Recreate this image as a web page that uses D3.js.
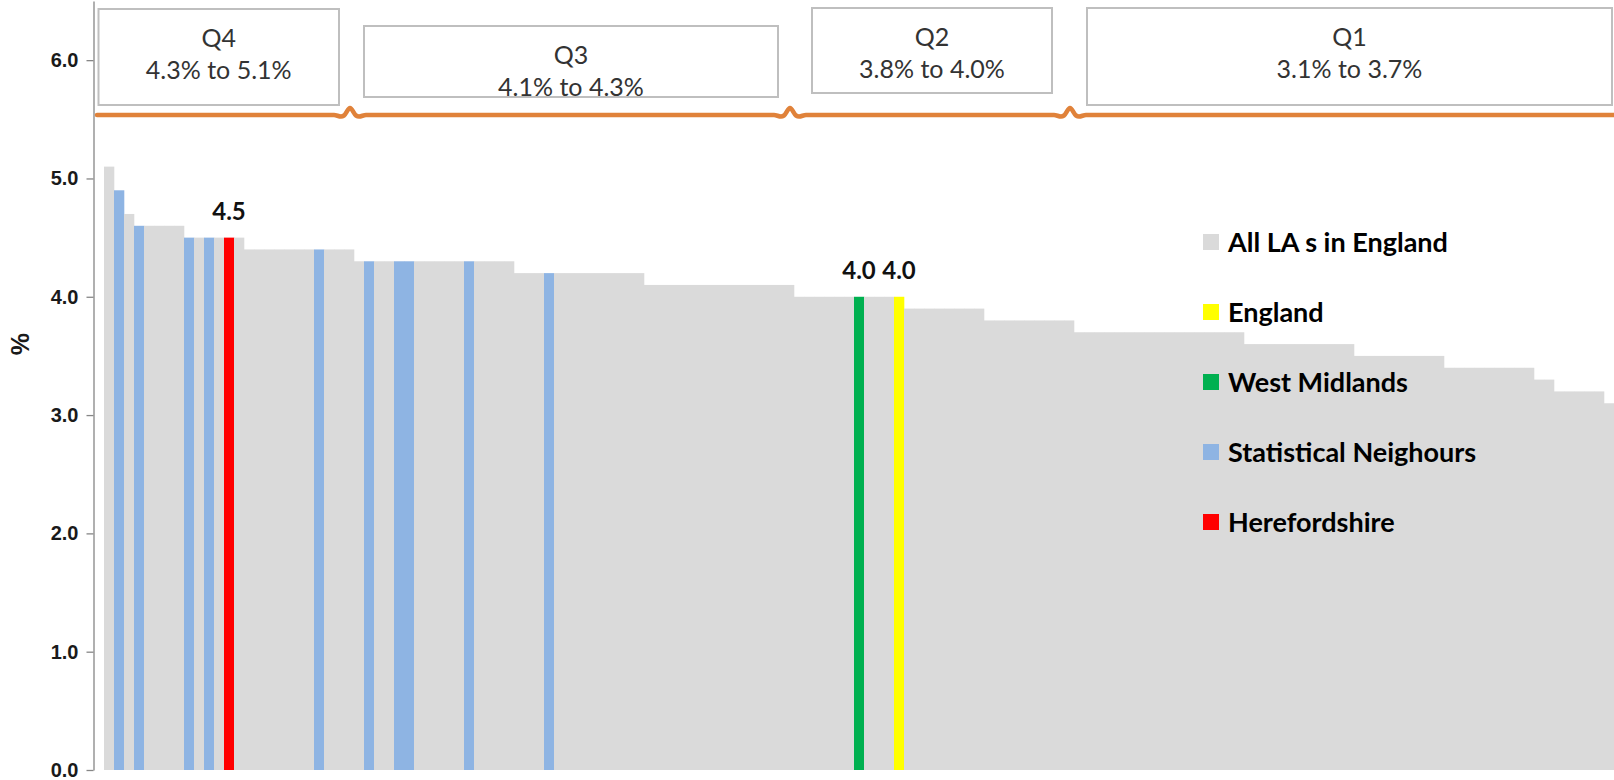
<!DOCTYPE html>
<meta charset="utf-8">
<style>

body {
  margin: 0;
  background: #fff;
}

.axis .domain,
.axis .tick line {
  stroke: #868686;
  stroke-width: 1.3px;
}

.axis .tick text {
  font: bold 20px "Liberation Sans", Arial, sans-serif;
  fill: #1a1a1a;
}

.box {
  fill: #fff;
  stroke: #bfbfbf;
  stroke-width: 2px;
}

.box-text {
  font: 25px Lato, sans-serif;
  fill: #333;
  text-anchor: middle;
}

.brace {
  fill: none;
  stroke: #e0823a;
  stroke-width: 4.5px;
  stroke-linecap: round;
  stroke-linejoin: round;
}

.value-label {
  font: bold 24px Lato, sans-serif;
  fill: #111;
  text-anchor: middle;
}

.legend text {
  font: bold 27px Lato, sans-serif;
  fill: #000;
}

</style>

<body>

<script src="https://cdn.jsdelivr.net/npm/d3@7"></script>
<script>

// one bar per local authority, sorted high to low (%)
var values = [
  5.1, 4.9, 4.7, 4.6, 4.6, 4.6, 4.6, 4.6, 4.5, 4.5,
  4.5, 4.5, 4.5, 4.5, 4.4, 4.4, 4.4, 4.4, 4.4, 4.4,
  4.4, 4.4, 4.4, 4.4, 4.4, 4.3, 4.3, 4.3, 4.3, 4.3,
  4.3, 4.3, 4.3, 4.3, 4.3, 4.3, 4.3, 4.3, 4.3, 4.3,
  4.3, 4.2, 4.2, 4.2, 4.2, 4.2, 4.2, 4.2, 4.2, 4.2,
  4.2, 4.2, 4.2, 4.2, 4.1, 4.1, 4.1, 4.1, 4.1, 4.1,
  4.1, 4.1, 4.1, 4.1, 4.1, 4.1, 4.1, 4.1, 4.1, 4.0,
  4.0, 4.0, 4.0, 4.0, 4.0, 4.0, 4.0, 4.0, 4.0, 4.0,
  3.9, 3.9, 3.9, 3.9, 3.9, 3.9, 3.9, 3.9, 3.8, 3.8,
  3.8, 3.8, 3.8, 3.8, 3.8, 3.8, 3.8, 3.7, 3.7, 3.7,
  3.7, 3.7, 3.7, 3.7, 3.7, 3.7, 3.7, 3.7, 3.7, 3.7,
  3.7, 3.7, 3.7, 3.7, 3.6, 3.6, 3.6, 3.6, 3.6, 3.6,
  3.6, 3.6, 3.6, 3.6, 3.6, 3.5, 3.5, 3.5, 3.5, 3.5,
  3.5, 3.5, 3.5, 3.5, 3.4, 3.4, 3.4, 3.4, 3.4, 3.4,
  3.4, 3.4, 3.4, 3.3, 3.3, 3.2, 3.2, 3.2, 3.2, 3.2,
  3.1
];

// A = LA in England, S = statistical neighbour, H = Herefordshire,
// W = West Midlands, E = England
var kinds = (
  "ASASAAAASA" + "SAHAAAAAAA" + "ASAAAASAAS" + "SAAAAASAAA" +
  "AAAAS" + "AAAAA" + "AAAAAAAAAA" + "AAAAAAAAAA" +
  "AAAAAWAAAE" + "AAAAAAAAAA" + "AAAAAAAAAA" + "AAAAAAAAAA" +
  "AAAAAAAAAA" + "AAAAAAAAAA" + "AAAAAAAAAA" + "AAAAAAAAAA" + "A"
).split("");

var legendKeys   = ["A", "E", "W", "S", "H"];
var legendLabels = ["All LA s in England", "England", "West Midlands",
                    "Statistical Neighours", "Herefordshire"];
var colors = {A: "#dadada", S: "#8eb4e3", H: "#ff0000", W: "#00b050", E: "#ffff00"};

var quartileNames  = ["Q4", "Q3", "Q2", "Q1"];
var quartileRanges = ["4.3% to 5.1%", "4.1% to 4.3%", "3.8% to 4.0%", "3.1% to 3.7%"];
var quartileStart  = [0, 25, 69, 97];   // first bar of each quartile

var yTicks = [0, 1, 2, 3, 4, 5, 6];

var width = 1614,
    height = 780,
    axisX = 93.5;

var svg = d3.select("body").append("svg")
    .attr("width", width)
    .attr("height", height);

var x = d3.scaleBand()
    .domain(d3.range(values.length))
    .range([104, width])
    .padding(0);

var y = d3.scaleLinear()
    .domain([0, 6.5])
    .range([770, 1]);

// bars
svg.append("g").selectAll("rect")
  .data(values)
  .enter().append("rect")
    .attr("x", function(d, i) { return x(i); })
    .attr("y", function(d) { return y(d); })
    .attr("width", x.bandwidth() + 0.3)
    .attr("height", function(d) { return y(0) - y(d); })
    .style("fill", function(d, i) { return colors[kinds[i]]; });

// labels on the highlighted bars
svg.append("g").selectAll("text")
  .data(values.map(function(v, i) { return {v: v, i: i}; })
    .filter(function(d) { return "HWE".indexOf(kinds[d.i]) >= 0; }))
  .enter().append("text")
    .attr("class", "value-label")
    .attr("x", function(d) { return x(d.i) + x.bandwidth() / 2; })
    .attr("y", function(d) { return y(d.v) - 18; })
    .text(function(d) { return d3.format(".1f")(d.v); });

// y axis
svg.append("g")
    .attr("class", "axis")
    .attr("transform", "translate(" + axisX + ",0)")
    .call(d3.axisLeft(y)
      .tickValues(yTicks)
      .tickFormat(d3.format(".1f"))
      .tickSize(7)
      .tickSizeOuter(0)
      .tickPadding(8));

svg.append("text")
    .attr("transform", "translate(29," + y(3.6) + ") rotate(-90)")
    .attr("text-anchor", "middle")
    .style("font", "bold 25px 'Liberation Sans', Arial, sans-serif")
    .style("fill", "#1a1a1a")
    .text("%");

// quartile brace line
var braceY = 115;
var cuts = quartileStart.slice(1).map(function(i) { return x(i) - 4; });

var pts = [[97, braceY]];
cuts.forEach(function(c) {
  pts.push([c - 16, braceY], [c - 9, braceY + 1.5], [c - 6, braceY + 0.5],
           [c, braceY - 7], [c + 6, braceY + 0.5], [c + 9, braceY + 1.5], [c + 16, braceY]);
});
pts.push([width, braceY]);

svg.append("path")
    .attr("class", "brace")
    .attr("d", d3.line().curve(d3.curveMonotoneX)(pts));

// quartile boxes
var boxTop     = [9, 26, 8, 8];
var boxBottom  = [105, 97, 93, 105];
var leftInset  = [0, 14, 22, 17];
var rightInset = [11, 12, 18, 0];
var edges = [axisX + 5].concat(cuts).concat([width - 2]);

quartileNames.forEach(function(q, k) {
  var x0 = edges[k] + leftInset[k],
      x1 = edges[k + 1] - rightInset[k];
  var g = svg.append("g");
  g.append("rect")
      .attr("class", "box")
      .attr("x", x0)
      .attr("y", boxTop[k])
      .attr("width", x1 - x0)
      .attr("height", boxBottom[k] - boxTop[k]);
  g.append("text")
      .attr("class", "box-text")
      .attr("x", (x0 + x1) / 2)
      .attr("y", boxTop[k] + 38)
      .text(q);
  g.append("text")
      .attr("class", "box-text")
      .attr("x", (x0 + x1) / 2)
      .attr("y", boxTop[k] + 70)
      .text(quartileRanges[k]);
});

// legend
var legend = svg.append("g")
    .attr("class", "legend")
    .attr("transform", "translate(1203,242)");

var item = legend.selectAll("g")
  .data(legendKeys)
  .enter().append("g")
    .attr("transform", function(d, i) { return "translate(0," + i * 70 + ")"; });

item.append("rect")
    .attr("x", 0)
    .attr("y", -8)
    .attr("width", 16)
    .attr("height", 16)
    .style("fill", function(d) { return colors[d]; });

item.append("text")
    .attr("x", 25)
    .attr("y", 9.5)
    .text(function(d, i) { return legendLabels[i]; });

</script>
</body>
